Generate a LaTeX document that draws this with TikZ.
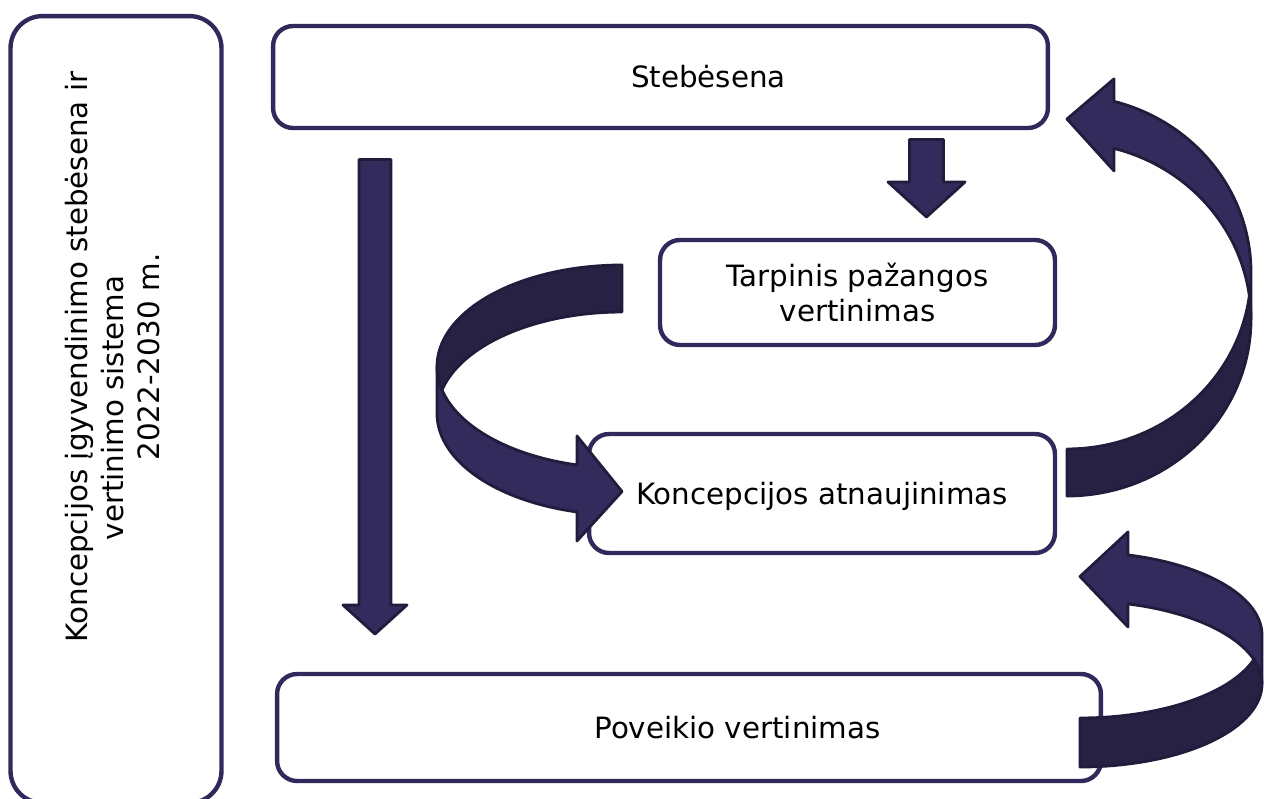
\documentclass[tikz,border=0pt]{standalone}
\usepackage{fontspec}
\setmainfont{DejaVu Sans}

\definecolor{boxline}{HTML}{2F2A5B}
\definecolor{bandlight}{HTML}{322B5C}
\definecolor{banddark}{HTML}{272244}
\definecolor{bandedge}{HTML}{201C3C}

\tikzset{
  stage/.style={draw=boxline, fill=white, line width=2.5pt, rounded corners=0.4cm,
    inner sep=0pt, align=center, font=\fontsize{16.7}{20.2}\selectfont},
  frontband/.style={fill=bandlight, draw=bandedge, line width=1.6pt, line join=round},
  backband/.style={fill=banddark, draw=bandedge, line width=1.6pt, line join=round},
}

% block arrow pointing down: x, top, head base, tip, half shaft, half head
\newcommand{\blockdown}[6]{%
  \draw[frontband] (#1-#5,#2) -- (#1+#5,#2) -- (#1+#5,#3) -- (#1+#6,#3)
    -- (#1,#4) -- (#1-#6,#3) -- (#1-#5,#3) -- cycle;}

% curved ribbon arrow: width, height, thickness, head width, head length
\newcommand{\ribbonarrow}[5]{%
  \pgfmathsetmacro\hR{#2/2-(#3+#4)/4}%
  \pgfmathsetmacro\dy{\hR*sqrt(1-(#5/#1)*(#5/#1))}%
  \pgfmathsetmacro\tE{90+asin(#5/#1)}%
  \pgfmathsetmacro\tI{asin(#3/(2*\hR))}%
  \pgfmathsetmacro\yIn{\hR+\dy}%
  \pgfmathsetmacro\yOut{\hR+#3+\dy}%
  \pgfmathsetmacro\yBarbA{\yIn-(#4-#3)/2}%
  \pgfmathsetmacro\yBarbB{\yOut+(#4-#3)/2}%
  \pgfmathsetmacro\yTip{#2-#4/2}%
  \pgfmathsetmacro\xHead{#1-#5}%
  \draw[frontband] plot[variable=\s, domain=0:1, samples=40]
      ({#1+#1*cos(180+(\tE-180)*\s)}, {\hR+\hR*sin(180+(\tE-180)*\s)})
    -- (\xHead,\yBarbA) -- (#1,\yTip) -- (\xHead,\yBarbB) -- (\xHead,\yOut)
    -- plot[variable=\s, domain=0:1, samples=40]
      ({#1+#1*cos(\tE+(180-\tE)*\s)}, {\hR+#3+\hR*sin(\tE+(180-\tE)*\s)})
    -- cycle;
  \draw[backband] plot[variable=\s, domain=0:1, samples=40]
      ({#1+#1*cos(270-(90-\tI)*\s)}, {\hR+#3+\hR*sin(270-(90-\tI)*\s)})
    -- plot[variable=\s, domain=0:1, samples=40]
      ({#1+#1*cos(180-\tI+(90+\tI)*\s)}, {\hR+\hR*sin(180-\tI+(90+\tI)*\s)})
    -- cycle;
}

\begin{document}
\begin{tikzpicture}[x=0.02cm, y=-0.02cm]
\useasboundingbox (0,0) rectangle (1264,798);

% boxes
\node[stage, minimum width=4.22cm, minimum height=15.74cm, rounded corners=0.64cm] (sistema) at (116,409.5) {};
\node[rotate=90, align=center, font=\fontsize{16.7}{20.6}\selectfont] (sistemaText) at (112.5,357)
  {Koncepcijos įgyvendinimo stebėsena ir\\vertinimo sistema\kern2.04cm\\2022-2030 m.};
\node[stage, minimum width=15.5cm, minimum height=2.04cm] (stebesena) at (660.5,77) {\kern1.92cm Stebėsena};
\node[stage, minimum width=7.9cm, minimum height=2.1cm] (tarpinis) at (857.5,292.5) {Tarpinis pažangos\\vertinimas};
\node[stage, minimum width=9.32cm, minimum height=2.38cm, text depth=0pt] (atnaujinimas) at (822,493.5) {Koncepcijos atnaujinimas};
\node[stage, minimum width=16.48cm, minimum height=2.14cm] (poveikis) at (689,727.5) {\kern1.94cm Poveikio vertinimas};

% straight arrows
\blockdown{926.5}{139.5}{182}{217}{17}{38.5}
\blockdown{375}{159.5}{605}{634}{16}{32}

% curved arrows
\begin{scope}[shift={(437,265)}]
  \ribbonarrow{185}{279}{47}{105}{45}
\end{scope}
\begin{scope}[shift={(1251,496)}, rotate=180]
  \ribbonarrow{184}{423}{47}{92}{47}
\end{scope}
\begin{scope}[shift={(1262,767)}, rotate=180]
  \ribbonarrow{182}{238}{49}{95}{48}
\end{scope}
\end{tikzpicture}
\end{document}
